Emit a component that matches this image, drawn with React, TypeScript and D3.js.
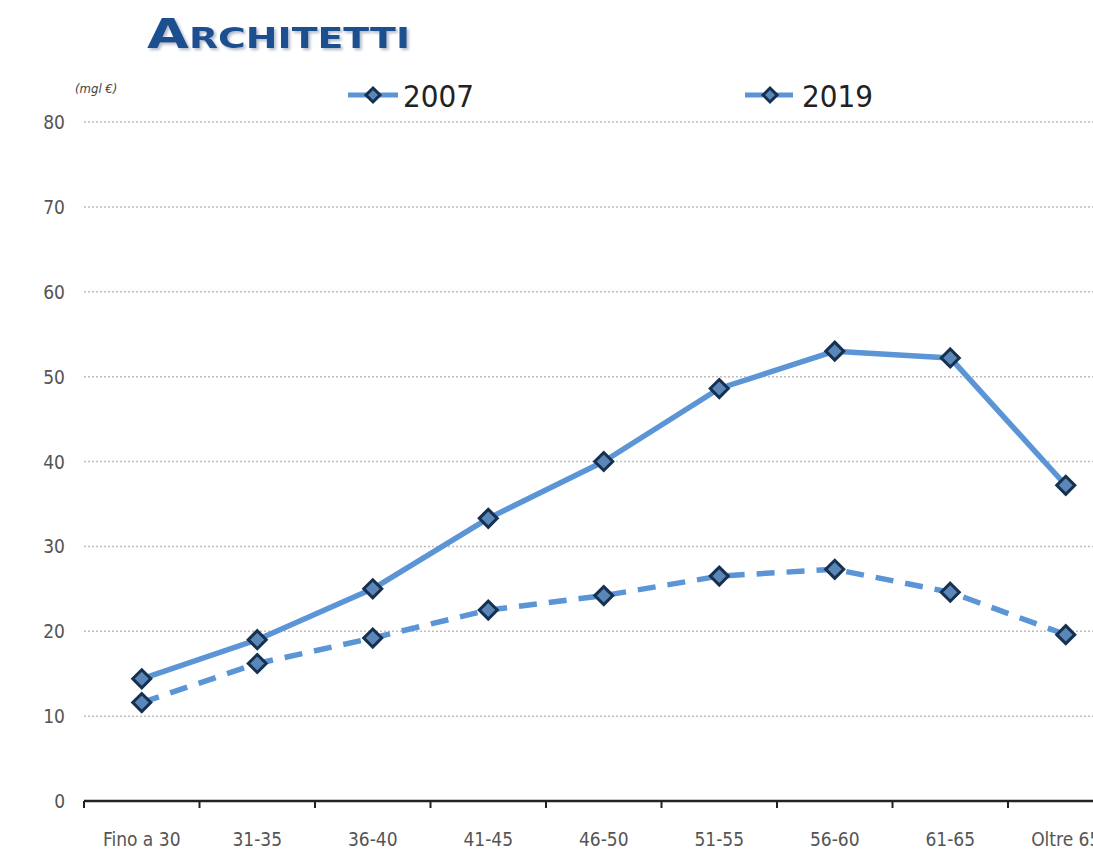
import React from 'react';
import * as d3 from 'd3';

const categories = ['Fino a 30', '31-35', '36-40', '41-45', '46-50', '51-55', '56-60', '61-65', 'Oltre 65'];
const values2007 = [14.4, 19.0, 25.0, 33.3, 40.0, 48.6, 53.0, 52.2, 37.2];
const values2019 = [11.6, 16.2, 19.2, 22.5, 24.2, 26.5, 27.3, 24.6, 19.6];
const yTicks = [0, 10, 20, 30, 40, 50, 60, 70, 80];

const W = 1093;
const H = 856;
const LINE = '#5b95d6';
const MARK_FILL = '#5a86b8';
const MARK_STROKE = '#16304f';

const Diamond: React.FC<{ x: number; y: number; r?: number }> = ({ x, y, r = 9 }) => (
  <path
    d={`M${x},${y - r}L${x + r},${y}L${x},${y + r}L${x - r},${y}Z`}
    fill={MARK_FILL}
    stroke={MARK_STROKE}
    strokeWidth={3}
  />
);

const App: React.FC = () => {
  const x = d3.scaleBand<string>().domain(categories).range([84, 84 + 115.5 * categories.length]);
  const y = d3.scaleLinear().domain([0, 80]).range([801, 122]);
  const cx = (c: string) => (x(c) as number) + x.bandwidth() / 2;

  const line = d3
    .line<number>()
    .x((_, i) => cx(categories[i]))
    .y((d) => y(d));

  const labelFont = '"DejaVu Sans Condensed", "DejaVu Sans", sans-serif';

  return (
    <svg
      width={W}
      height={H}
      style={{ position: 'absolute', left: 0, top: 0, background: '#fff' }}
    >
      <defs>
        <filter id="shadow" x="-10%" y="-20%" width="130%" height="160%">
          <feDropShadow dx="2" dy="2" stdDeviation="1.5" floodColor="#9aa9bd" floodOpacity="0.8" />
        </filter>
      </defs>

      {/* title */}
      <text
        x={147}
        y={48}
        fontFamily='"DejaVu Sans", sans-serif'
        fontWeight="bold"
        fontSize={40}
        fill="#1f4f8f"
        filter="url(#shadow)"
        style={{ fontVariant: 'small-caps' }}
        textLength={263}
        lengthAdjust="spacingAndGlyphs"
      >
        Architetti
      </text>

      <text x={75} y={93} fontFamily={labelFont} fontStyle="italic" fontSize={13} fill="#444">
        (mgl €)
      </text>

      {/* gridlines */}
      {yTicks.filter((t) => t > 0).map((t) => (
        <line
          key={t}
          x1={84}
          x2={W}
          y1={y(t)}
          y2={y(t)}
          stroke="#bdbdbd"
          strokeWidth={1.5}
          strokeDasharray="2 2"
        />
      ))}

      {/* y tick labels */}
      {yTicks.map((t) => (
        <text
          key={t}
          x={65}
          y={y(t) + 7}
          textAnchor="end"
          fontFamily={labelFont}
          fontSize={19}
          fill="#555"
        >
          {t}
        </text>
      ))}

      {/* x axis */}
      <line x1={84} x2={W} y1={y(0)} y2={y(0)} stroke="#222" strokeWidth={2.5} />
      {categories.map((c) => (
        <line key={c} x1={x(c) as number} x2={x(c) as number} y1={y(0)} y2={y(0) + 7} stroke="#222" strokeWidth={2} />
      ))}
      {categories.map((c) => (
        <text
          key={c}
          x={cx(c)}
          y={846}
          textAnchor="middle"
          fontFamily={labelFont}
          fontSize={19}
          fill="#555"
        >
          {c}
        </text>
      ))}

      {/* series */}
      <path d={line(values2007) || ''} fill="none" stroke={LINE} strokeWidth={5.5} strokeLinejoin="round" />
      <path
        d={line(values2019) || ''}
        fill="none"
        stroke={LINE}
        strokeWidth={5.5}
        strokeDasharray="18 12"
      />
      {values2007.map((v, i) => (
        <Diamond key={'a' + i} x={cx(categories[i])} y={y(v)} />
      ))}
      {values2019.map((v, i) => (
        <Diamond key={'b' + i} x={cx(categories[i])} y={y(v)} />
      ))}

      {/* legend */}
      <line x1={348} x2={398} y1={95} y2={95} stroke={LINE} strokeWidth={5} />
      <Diamond x={373} y={95} r={7} />
      <text x={403} y={107} fontFamily={labelFont} fontSize={31} fill="#222">
        2007
      </text>
      <line x1={745} x2={795} y1={95} y2={95} stroke={LINE} strokeWidth={5} strokeDasharray="18 12" />
      <Diamond x={770} y={95} r={7} />
      <text x={802} y={107} fontFamily={labelFont} fontSize={31} fill="#222">
        2019
      </text>
    </svg>
  );
};

export default App;
